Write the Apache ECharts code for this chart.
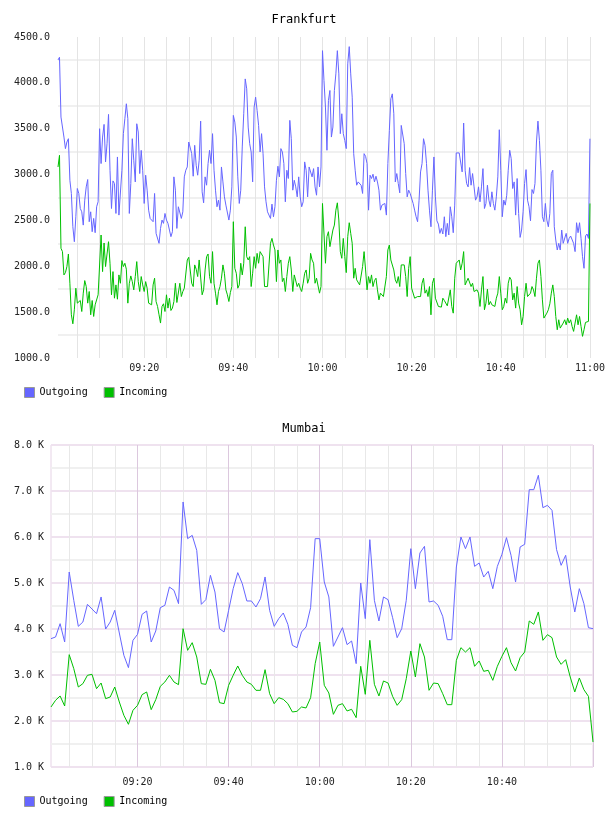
<!DOCTYPE html>
<html>
<head>
<meta charset="utf-8">
<script src="https://cdn.jsdelivr.net/npm/echarts@6.0.0/dist/echarts.min.js"></script>
<style>
  html, body { margin: 0; padding: 0; background: #fff; }
  #chart { width: 608px; height: 816px; }
</style>
</head>
<body>
<div id="chart"></div>
<script>
// Frankfurt: one sample every 20 s, 09:00:40 .. 11:00:00
const frankfurtOutgoing = [
  4250, 4279, 3627, 3620, 3409, 3283, 3355, 3391, 2938, 2794,
  2431, 2268, 2540, 2848, 2794, 2630, 2594, 2449, 2721, 2866,
  2946, 2486, 2594, 2377, 2522, 2366, 2649, 2703, 3500, 3120,
  3409, 3547, 3138, 3337, 3656, 3047, 2630, 2931, 2902, 2576,
  3192, 2558, 2540, 3047, 3446, 3609, 3772, 3609, 2576, 2902,
  3391, 3156, 2920, 3554, 3464, 3011, 3264, 3047, 2685, 2993,
  2830, 2612, 2522, 2504, 2486, 2794, 2359, 2377, 2250, 2413,
  2504, 2468, 2576, 2504, 2468, 2395, 2323, 2377, 2975, 2830,
  2413, 2649, 2667, 2522, 2594, 2975, 3047, 3083, 3355,
  3337, 3228, 2982, 3319, 3101, 2993, 3156, 3583, 2812, 2692,
  2975, 2884, 3120, 3265, 3120, 3446, 3047, 2830, 2649, 2721,
  2612, 3083, 2920, 2757, 2667, 2667, 2504, 2612, 2866, 3645,
  3572, 3409, 2975, 2685, 2830, 3301, 3663, 4043, 3935, 3518,
  3337, 3246, 2920, 3736, 3844, 3699, 3536, 3246, 3446, 3228,
  2866, 2703, 2594, 2612, 2522, 2678, 2540, 2649, 2938, 3091,
  2975, 3283, 3246, 3120, 2703, 3047, 2957, 3591, 3391, 2830,
  2938, 2866, 2757, 2975, 2757, 2649, 2703, 3138, 3047, 2757,
  3083, 3083, 2975, 3065, 2866, 2775, 3083, 2866, 3083, 4351,
  4025,
  3736, 3265, 3808, 3917, 3409, 3518, 3917, 4098, 4351, 4098,
  3446, 3663, 3446, 3373, 3283, 4207, 4395, 4098, 3844, 3228,
  3047, 2884, 2920, 2938, 2884, 2794, 3228, 3199, 3120, 2612,
  2993, 2957, 3004, 2920, 2982, 2920, 2830, 2612, 2667, 2667,
  2685, 2558, 3120, 3482, 3826, 3880, 3663, 2920, 3011, 2902,
  2801, 3536, 3518, 3337, 3011, 2757, 2830, 2794, 2812, 2685,
  2612, 2540, 2486, 2721, 3029, 3120, 3391, 3319, 3120, 2830,
  2612, 2431, 2830, 3192, 2757, 2496, 2460, 2359, 2413, 2352,
  2540, 2323, 2468, 2341, 2649, 2540, 2366, 2667, 3236,
  3246, 3236, 3221, 3029, 3562, 3047, 2902, 2866, 3076, 2884,
  3011, 2866, 2721, 2757, 2866, 2703, 2866, 3065, 2630, 2685,
  2884, 2721, 2649, 2812, 2685, 2612, 2757, 2975, 3489, 3047,
  2540, 2721, 2667, 2775, 3047, 3265, 3174, 2848, 2920, 2558,
  2957, 2576, 2315, 2395, 2594, 2902, 3054, 2721, 2649, 2496,
  2837, 2794, 2902, 3355, 3583, 3373, 3047, 2540, 2486, 2685,
  2504, 2431, 2576, 3011, 3047, 2431, 2286, 2178, 2250, 2178,
  2395, 2250, 2250, 2359, 2250, 2304, 2330, 2323, 2250, 2160,
  2475, 2366, 2475, 2304, 2105, 1978, 2330, 2352, 2304, 3391
];
const frankfurtIncoming = [
  3083, 3210, 2196, 2160, 1906, 1931, 1997, 2134, 1815, 1471,
  1373, 1526, 1761, 1598, 1580, 1627, 1507, 1707, 1844, 1779,
  1598, 1725, 1471, 1627, 1453, 1580, 1591, 1689, 1707, 2341,
  1942, 2254, 1997, 2134, 2268, 2033, 1689, 1942, 1652, 1797,
  1641, 1906, 1815, 2062, 1997, 2033, 1968, 1598, 1815, 1895,
  1833, 1743, 1888, 2051, 1833, 1725, 1888, 1797, 1725, 1833,
  1761, 1598, 1605, 1580, 1797, 1870, 1616, 1562, 1471, 1381,
  1562, 1591, 1507, 1689, 1544, 1652, 1518, 1544, 1616, 1815,
  1605, 1591, 1815, 1670, 1725, 1761, 1750, 2069, 2098,
  2098, 1815, 1779, 2015, 1968, 1888, 2069, 2076, 1689, 1743,
  1960, 2105, 2134, 1888, 1815, 2160, 1815, 1707, 1580, 1725,
  1779, 1870, 2015, 1924, 1743, 1689, 1616, 1714, 1779, 2486,
  1978, 1924, 1761, 1797, 2033, 1906, 2033, 2431, 2105, 2069,
  2105, 1779, 1924, 2105, 1978, 2141, 2033, 2160, 2178, 2105,
  1779, 1761, 1779, 1761, 2250, 2304, 2232, 2178, 1833, 2178,
  2033, 2069, 1833, 1870, 1725, 1888, 2033, 2105, 1960, 1725,
  1906, 1888, 1779, 1815, 1761, 1725, 1815, 1924, 1960, 1815,
  1870, 2141, 2069, 2033, 1815, 1870, 1888, 1707, 1779, 2685,
  2667,
  2033, 2323, 2377, 2214, 2214, 2395, 2449, 2612, 2692, 2504,
  2160, 2087, 2304, 2105, 1931, 2323, 2475, 2359, 2250, 1870,
  1978, 1852, 1833, 1797, 1815, 1997, 2160, 1960, 1743, 1888,
  1815, 1906, 1779, 1844, 1870, 1743, 1634, 1707, 1725, 1670,
  1652, 1888, 2178, 2232, 2069, 2062, 1960, 1852, 1815, 1888,
  1779, 2015, 2033, 2015, 1888, 1670, 1978, 2105, 1761, 1743,
  1652, 1652, 1670, 1652, 1670, 1815, 1870, 1707, 1743, 1670,
  1779, 1471, 1815, 1870, 1652, 1634, 1562, 1569, 1555, 1652,
  1627, 1616, 1569, 1580, 1743, 1562, 1489, 1870, 2033,
  2033, 2069, 1960, 2033, 2160, 1797, 1815, 1870, 1852, 1779,
  1815, 1725, 1725, 1743, 1707, 1562, 1743, 1888, 1526, 1598,
  1750, 1580, 1616, 1580, 1598, 1562, 1652, 1707, 1888, 1707,
  1526, 1562, 1652, 1598, 1815, 1881, 1852, 1634, 1707, 1544,
  1779, 1598, 1526, 1362, 1453, 1670, 1815, 1670, 1670, 1707,
  1779, 1743, 1670, 1870, 2033, 2069, 1888, 1634, 1435, 1417,
  1489, 1526, 1591, 1707, 1797, 1670, 1453, 1308, 1417, 1326,
  1326, 1381, 1417, 1362, 1435, 1381, 1417, 1344, 1290, 1381,
  1471, 1362, 1453, 1344, 1236, 1308, 1388, 1399, 1399, 2685
];

// Mumbai: one sample a minute, 09:01 .. 11:00
const mumbaiOutgoing = [
  3790, 3826, 4116, 3718, 5239, 4623, 4058, 4152, 4536, 4435,
  4333, 4696, 4000, 4152, 4406, 3913, 3428, 3160, 3754, 3884,
  4319, 4391, 3718, 3957, 4464, 4515, 4913, 4841, 4551, 6761,
  5964, 6036, 5710, 4536, 4638, 5167, 4804, 4007, 3935, 4406,
  4877, 5225, 4986, 4609, 4609, 4478, 4660, 5131, 4406, 4058,
  4225, 4348, 4102, 3645, 3594, 3935, 4044, 4464, 5964, 5964,
  5022, 4696, 3623, 3826, 4029, 3660, 3739, 3247, 5000, 4225,
  5942, 4623, 4174, 4696, 4638, 4247, 3812, 4007, 4623, 5746,
  4877, 5652, 5797, 4587, 4609, 4515, 4276, 3768, 3768, 5348,
  6000, 5746, 6000, 5362, 5435, 5130, 5254, 4877, 5362, 5623,
  5986, 5602, 5022, 5783, 5841, 7029, 7029, 7341, 6638, 6688,
  6580, 5725, 5384, 5602, 4913, 4370, 4877, 4551, 4029, 4007
];
const mumbaiIncoming = [
  2305, 2450, 2544, 2326, 3442, 3138, 2739, 2812, 2993, 3015,
  2703, 2826, 2486, 2522, 2739, 2413, 2123, 1928, 2232, 2341,
  2573, 2631, 2247, 2464, 2754, 2848, 2993, 2848, 2790, 4007,
  3536, 3703, 3391, 2812, 2797, 3123, 2884, 2399, 2377, 2776,
  2993, 3196, 2993, 2848, 2797, 2667, 2667, 3116, 2594, 2377,
  2507, 2471, 2377, 2196, 2210, 2305, 2283, 2507, 3246, 3717,
  2776, 2609, 2145, 2341, 2377, 2218, 2254, 2073, 3189, 2580,
  3754, 2797, 2544, 2870, 2826, 2536, 2341, 2464, 2920, 3522,
  2957, 3681, 3391, 2667, 2826, 2812, 2594, 2355, 2355, 3319,
  3594, 3500, 3594, 3189, 3305, 3080, 3102, 2884, 3189, 3406,
  3594, 3268, 3087, 3377, 3500, 4174, 4102, 4370, 3754, 3877,
  3812, 3391, 3232, 3333, 2957, 2631, 2935, 2681, 2536, 1544
];

const frankfurtStart = 40;   // seconds after 09:00
const frankfurtStep = 20;
const mumbaiStart = 60;
const mumbaiStep = 60;

const OUT_COLOR = '#6666ff';
const IN_COLOR = '#00c000';
const FONT = 'DejaVu Sans Mono';

function pad(n) { return (n < 10 ? '0' : '') + n; }
function clock(sec) {
  const s = 9 * 3600 + sec;
  return pad(Math.floor(s / 3600)) + ':' + pad(Math.floor(s % 3600 / 60)) + ':' + pad(s % 60);
}
function times(start, step, count) {
  const out = [];
  for (let i = 0; i < count; i++) out.push(clock(start + i * step));
  return out;
}
const frankfurtTimes = times(frankfurtStart, frankfurtStep, frankfurtOutgoing.length);
const mumbaiTimes = times(mumbaiStart, mumbaiStep, mumbaiOutgoing.length);

// "HH:MM:SS" on a whole number of minutes that divides by n
function onMinutes(v, n) {
  return v.slice(6) === '00' && Number(v.slice(3, 5)) % n === 0;
}

const chart = echarts.init(document.getElementById('chart'));

const labelText = { fontFamily: FONT, fontSize: 10, color: '#222' };

chart.setOption({
  animation: false,
  backgroundColor: '#fff',
  title: [
    { text: 'Frankfurt', left: 'center', top: 14, padding: 0,
      textStyle: { fontFamily: FONT, fontSize: 12, fontWeight: 'normal', color: '#000' } },
    { text: 'Mumbai', left: 'center', top: 423, padding: 0,
      textStyle: { fontFamily: FONT, fontSize: 12, fontWeight: 'normal', color: '#000' } }
  ],
  legend: [
    { data: ['Outgoing', 'Incoming'], left: 24, top: 387, padding: 0,
      itemWidth: 10, itemHeight: 10, itemGap: 16, icon: 'rect',
      itemStyle: { borderColor: '#999', borderWidth: 1 },
      textStyle: { fontFamily: FONT, fontSize: 10, color: '#000' } },
    { data: ['Outgoing', 'Incoming'], left: 24, top: 796, padding: 0,
      itemWidth: 10, itemHeight: 10, itemGap: 16, icon: 'rect',
      itemStyle: { borderColor: '#999', borderWidth: 1 },
      textStyle: { fontFamily: FONT, fontSize: 10, color: '#000' } }
  ],
  grid: [
    { left: 58, right: 17, top: 37, height: 321 },
    { left: 51, right: 15, top: 445, height: 322,
      show: true, borderColor: '#e6d3e6', borderWidth: 1 }
  ],
  xAxis: [
    {
      type: 'category', gridIndex: 0, data: frankfurtTimes, boundaryGap: false,
      axisLine: { show: false }, axisTick: { show: false },
      axisLabel: Object.assign({
        interval: (i, v) => onMinutes(v, 20),
        formatter: v => v.slice(0, 5), margin: 5
      }, labelText),
      splitLine: { show: true, interval: (i, v) => onMinutes(v, 5),
        lineStyle: { color: '#e4e4e4', width: 1 } }
    },
    {
      type: 'category', gridIndex: 1, data: mumbaiTimes, boundaryGap: false,
      axisLine: { show: false }, axisTick: { show: false },
      axisLabel: Object.assign({
        interval: (i, v) => onMinutes(v, 20) && v !== '11:00:00',
        formatter: v => v.slice(0, 5), margin: 10
      }, labelText),
      splitLine: { show: true, interval: (i, v) => onMinutes(v, 5),
        lineStyle: { color: ['#e8e8e8', '#e8e8e8', '#e8e8e8', '#dcc8de'], width: 1 } }
    }
  ],
  yAxis: [
    {
      type: 'value', gridIndex: 0, min: 1000, max: 4500, interval: 500,
      axisLine: { show: false }, axisTick: { show: false },
      splitLine: { show: false },
      minorTick: { show: false, splitNumber: 2 },
      minorSplitLine: { show: true, lineStyle: { color: '#f0f0f0', width: 2 } },
      axisLabel: Object.assign({ formatter: v => v.toFixed(1), margin: 8 }, labelText)
    },
    {
      type: 'value', gridIndex: 1, min: 1000, max: 8000, interval: 1000,
      axisLine: { show: false }, axisTick: { show: false },
      splitLine: { show: true, lineStyle: { color: '#efe2ef', width: 2 } },
      minorTick: { show: false, splitNumber: 2 },
      minorSplitLine: { show: true, lineStyle: { color: '#f0f0f0', width: 2 } },
      axisLabel: Object.assign({ formatter: v => (v / 1000).toFixed(1) + ' K', margin: 7 }, labelText)
    }
  ],
  series: [
    { name: 'Outgoing', type: 'line', xAxisIndex: 0, yAxisIndex: 0, data: frankfurtOutgoing,
      showSymbol: false, color: OUT_COLOR, lineStyle: { width: 1 } },
    { name: 'Incoming', type: 'line', xAxisIndex: 0, yAxisIndex: 0, data: frankfurtIncoming,
      showSymbol: false, color: IN_COLOR, lineStyle: { width: 1 } },
    { name: 'Outgoing', type: 'line', xAxisIndex: 1, yAxisIndex: 1, data: mumbaiOutgoing,
      showSymbol: false, color: OUT_COLOR, lineStyle: { width: 1 } },
    { name: 'Incoming', type: 'line', xAxisIndex: 1, yAxisIndex: 1, data: mumbaiIncoming,
      showSymbol: false, color: IN_COLOR, lineStyle: { width: 1 } }
  ]
});
</script>
</body>
</html>
